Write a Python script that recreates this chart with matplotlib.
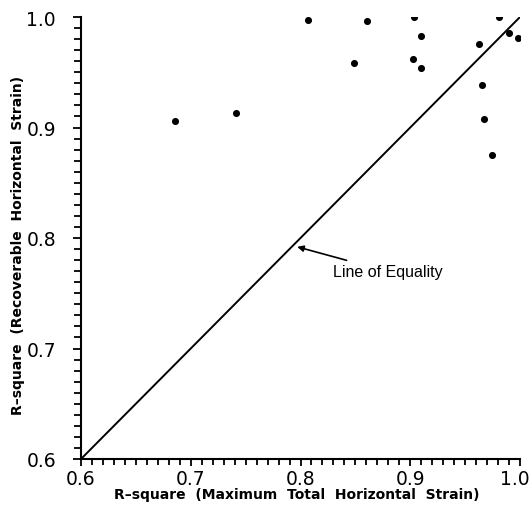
import matplotlib
matplotlib.use("Agg")
import matplotlib.pyplot as plt
import matplotlib.transforms as mtransforms
from matplotlib.ticker import MultipleLocator

# R-square values for each test section
r2_max_total = [0.6854, 0.7412, 0.8068, 0.8603, 0.8487, 0.9037, 0.9028, 0.9095,
                0.9095, 0.9809, 0.9624, 0.9654, 0.9675, 0.9742, 0.9900, 0.9979]
r2_recoverable = [0.9056, 0.9128, 0.9973, 0.9967, 0.9584, 1.0000, 0.9617, 0.9825,
                  0.9536, 1.0000, 0.9753, 0.9385, 0.9074, 0.8751, 0.9852, 0.9807]

equality = [0.6, 1.0]
tick_values = [0.6, 0.7, 0.8, 0.9, 1.0]
tick_labels = ["0.6", "0.7", "0.8", "0.9", "1.0"]

fig = plt.figure(figsize=(5.32, 5.06), dpi=100)
ax = fig.add_axes([81 / 532, 1 - 460 / 506, 439 / 532, 442 / 506])

ax.plot(equality, equality, color="black", lw=1.4, solid_capstyle="butt")
ax.scatter(r2_max_total, r2_recoverable, s=26, color="black", zorder=3,
           linewidths=0)

ax.annotate("Line of Equality", xy=(0.797, 0.792), xytext=(0.83, 0.7695),
            fontsize=11.5, family="Liberation Sans", ha="left", va="center",
            arrowprops=dict(arrowstyle="-|>", color="black", lw=1.2,
                            mutation_scale=9, shrinkA=3, shrinkB=0))

ax.set_xlim(0.6, 1.0)
ax.set_ylim(0.6, 1.0)
ax.set_xticks(tick_values)
ax.set_xticklabels(tick_labels)
ax.set_yticks(tick_values)
ax.set_yticklabels(tick_labels)
ax.xaxis.set_minor_locator(MultipleLocator(0.01))
ax.yaxis.set_minor_locator(MultipleLocator(0.01))

for side in ("top", "right"):
    ax.spines[side].set_visible(False)
for side in ("left", "bottom"):
    ax.spines[side].set_linewidth(1.5)
    ax.spines[side].set_color("black")

ax.tick_params(axis="both", which="both", direction="out", color="black",
               width=1.3)
ax.tick_params(axis="x", which="major", length=5, pad=2.5, labelsize=13.5)
ax.tick_params(axis="x", which="minor", length=4)
ax.tick_params(axis="y", which="major", length=6, pad=12, labelsize=13.5)
ax.tick_params(axis="y", which="minor", length=5)

ax.set_xlabel("R\u2013square  (Maximum  Total  Horizontal  Strain)",
              fontsize=10, fontweight="bold", va="center")
ax.set_ylabel("R\u2013square  (Recoverable  Horizontal  Strain)",
              fontsize=10, fontweight="bold", va="center")
ax.xaxis.set_label_coords(0.491, -0.080)
ax.yaxis.set_label_coords(-0.1435, 0.486)

# nudge the last x tick label inward so it stays inside the figure
last = ax.get_xticklabels()[-1]
shift = mtransforms.ScaledTranslation(-5 / 100, 0, fig.dpi_scale_trans)
last.set_transform(last.get_transform() + shift)

fig.savefig("out.png", dpi=100)
